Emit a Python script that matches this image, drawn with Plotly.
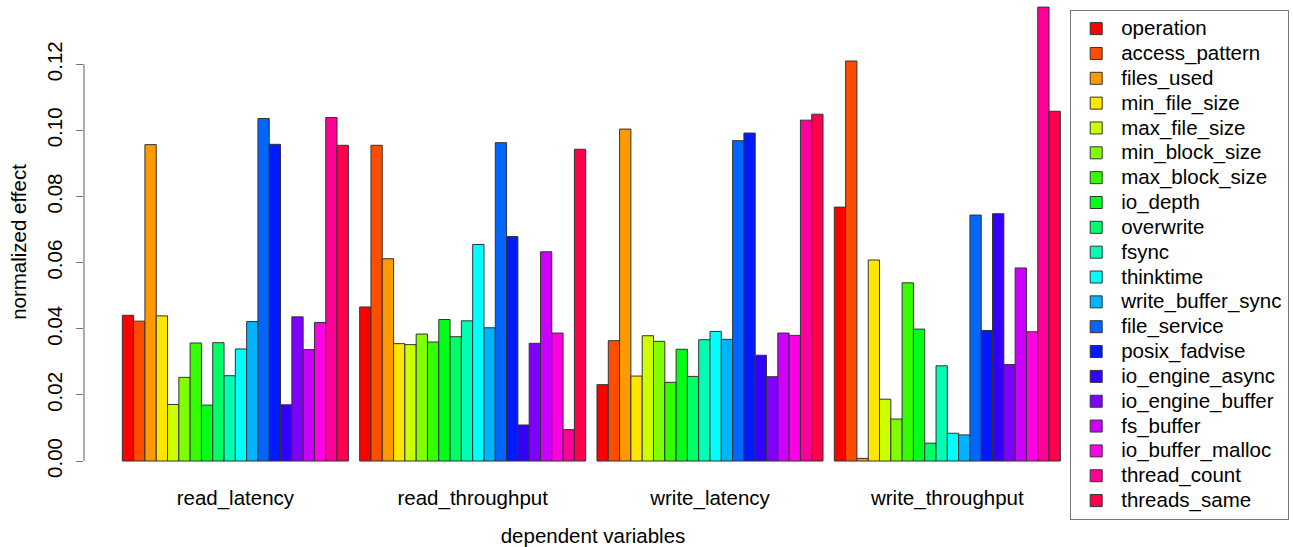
import plotly.graph_objects as go

groups = ["read_latency", "read_throughput", "write_latency", "write_throughput"]

factors = ["operation", "access_pattern", "files_used", "min_file_size", "max_file_size",
           "min_block_size", "max_block_size", "io_depth", "overwrite", "fsync", "thinktime",
           "write_buffer_sync", "file_service", "posix_fadvise", "io_engine_async",
           "io_engine_buffer", "fs_buffer", "io_buffer_malloc", "thread_count", "threads_same"]

# values per dependent variable, in factor order
read_latency = [0.0441, 0.0423, 0.0957, 0.0439, 0.0171, 0.0253, 0.0357, 0.0169, 0.0358, 0.0258,
                0.0339, 0.0422, 0.1036, 0.0958, 0.0170, 0.0436, 0.0337, 0.0419, 0.1039, 0.0955]
read_throughput = [0.0466, 0.0955, 0.0612, 0.0355, 0.0352, 0.0384, 0.0360, 0.0428, 0.0376, 0.0424,
                   0.0655, 0.0403, 0.0963, 0.0679, 0.0109, 0.0356, 0.0633, 0.0387, 0.0095, 0.0943]
write_latency = [0.0231, 0.0364, 0.1004, 0.0257, 0.0379, 0.0362, 0.0238, 0.0338, 0.0256, 0.0367,
                 0.0392, 0.0368, 0.0969, 0.0992, 0.0320, 0.0255, 0.0387, 0.0380, 0.1031, 0.1049]
write_throughput = [0.0768, 0.1210, 0.0008, 0.0608, 0.0187, 0.0127, 0.0539, 0.0399, 0.0054, 0.0288,
                    0.0084, 0.0079, 0.0744, 0.0395, 0.0748, 0.0292, 0.0584, 0.0391, 0.1373, 0.1058]

colors = ["#FF0000", "#FF4D00", "#FF9900", "#FFE500", "#CCFF00", "#80FF00", "#33FF00", "#00FF19",
          "#00FF66", "#00FFB2", "#00FFFF", "#00B3FF", "#0066FF", "#001AFF", "#3300FF", "#7F00FF",
          "#CC00FF", "#FF00E6", "#FF0099", "#FF004D"]

y_ticks = [0.00, 0.02, 0.04, 0.06, 0.08, 0.10, 0.12]

series = [read_latency, read_throughput, write_latency, write_throughput]

FONT = "Liberation Sans, Arial, sans-serif"

fig = go.Figure()
for i, name in enumerate(factors):
    fig.add_trace(go.Bar(
        x=groups,
        y=[s[i] for s in series],
        name='<span style="font-size:20.5px">' + name + '</span>',
        marker=dict(color=colors[i], line=dict(color="#333333", width=1)),
    ))

fig.update_layout(
    width=1293, height=547,
    margin=dict(l=84, r=191, t=5, b=68, autoexpand=False),
    paper_bgcolor="white", plot_bgcolor="white",
    barmode="group", bargap=1 / 21, bargroupgap=0,
    font=dict(family=FONT, size=20.5, color="#000000"),
    showlegend=True,
    legend=dict(
        x=(1070 - 84) / 1018, xanchor="left",
        y=(479 - 10) / 474, yanchor="top",
        maxheight=540,
        itemwidth=40,
        bordercolor="#777777", borderwidth=1.2,
        bgcolor="white",
        font=dict(family=FONT, size=16.8, color="#000000"),
        tracegroupgap=0,
    ),
    xaxis=dict(
        range=[-0.6377, -0.6377 + 1018 / 237.33],
        automargin=False,
        showline=False, showgrid=False, zeroline=False, ticks="",
        ticklabelstandoff=4,
        tickfont=dict(size=20.5),
        title=dict(text="dependent variables", font=dict(size=20.5), standoff=23),
    ),
    yaxis=dict(
        range=[-0.00544, -0.00544 + 474 / 3306],
        automargin=False,
        tickvals=y_ticks,
        ticktext=["%.2f" % v for v in y_ticks],
        tickangle=-90,
        ticks="outside", ticklen=7, tickcolor="#777777", tickwidth=1.2,
        ticklabelstandoff=6,
        showline=False, showgrid=False, zeroline=False,
        tickfont=dict(size=20.5),
        title=dict(text="normalized effect", font=dict(size=20.5), standoff=10),
    ),
)

# R-style y axis line spanning only the tick range
fig.add_shape(type="line", xref="paper", yref="y", x0=0, x1=0,
              y0=min(y_ticks), y1=max(y_ticks),
              line=dict(color="#777777", width=1.2))

fig.write_html("out.html", config={"displayModeBar": False},
               post_script="document.body.style.margin='0';")
